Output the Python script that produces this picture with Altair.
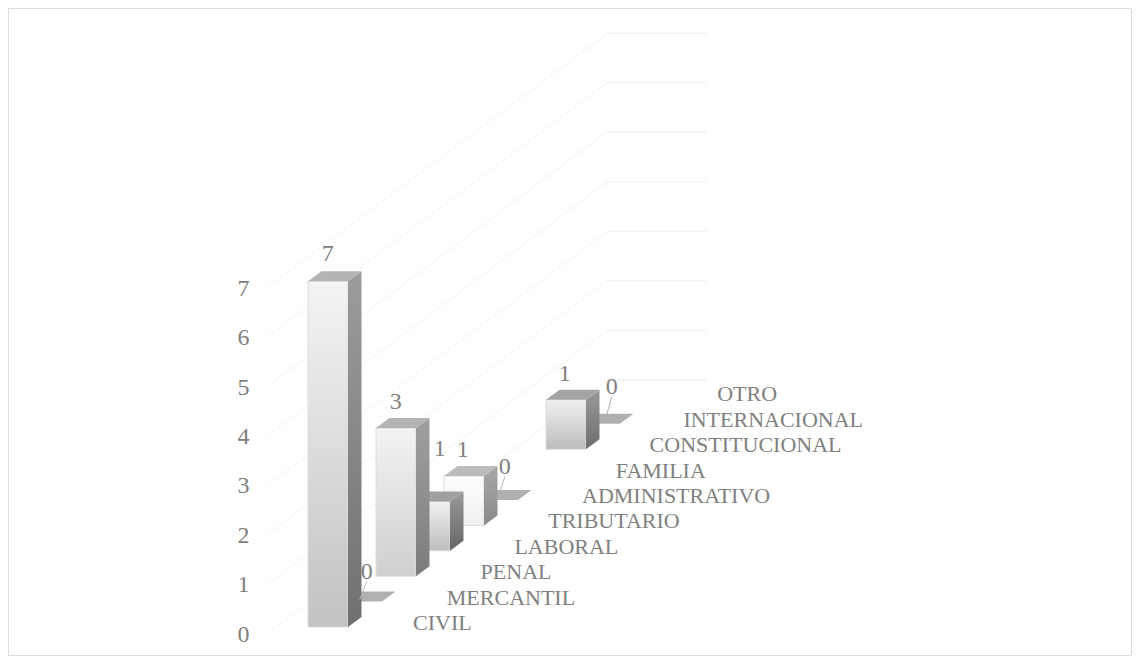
import altair as alt
import pandas as pd

categories = ["CIVIL", "MERCANTIL", "PENAL", "LABORAL", "TRIBUTARIO",
              "ADMINISTRATIVO", "FAMILIA", "CONSTITUCIONAL", "INTERNACIONAL", "OTRO"]
values = [7, 0, 3, 1, 1, 0, None, 1, 0, None]
ticks = [0, 1, 2, 3, 4, 5, 6, 7]
# manual label shifts (px) of the data labels, as moved in the original chart
label_dx = [-7, -2, -7, 3, -8, 0, 0, -8, 5, 0]
label_dy = [-17, -20, -16, -42, -16, -23, 0, -16, -27, 0]
# gradients per bar: front top, front bottom, side top, side bottom, top face
shades = {
    0: ("#f4f4f4", "#c2c2c2", "#9c9c9c", "#707070", "#b4b4b4"),
    1: ("#b0b0b0", "#b0b0b0", "#b0b0b0", "#b0b0b0", "#b0b0b0"),
    2: ("#f3f3f3", "#cfcfcf", "#a0a0a0", "#7c7c7c", "#b4b4b4"),
    3: ("#f2f2f2", "#bdbdbd", "#9a9a9a", "#666666", "#a0a0a0"),
    4: ("#fdfdfd", "#f0f0f0", "#a8a8a8", "#8a8a8a", "#bcbcbc"),
    5: ("#b0b0b0", "#b0b0b0", "#b0b0b0", "#b0b0b0", "#b0b0b0"),
    7: ("#f0f0f0", "#bcbcbc", "#9a9a9a", "#6e6e6e", "#a4a4a4"),
    8: ("#b0b0b0", "#b0b0b0", "#b0b0b0", "#b0b0b0", "#b0b0b0"),
}

W, H = 1123, 647
X0, Y0 = 308.0, 627.0      # page position of the first bar's front base
CAT, UNIT = 34.0, 49.4     # px per category, px per value unit
RISE = 25.4 / UNIT         # value-units the floor rises per category
BW = 40.0 / CAT            # bar width
DX, DZ = 13.5 / CAT, 10.0 / UNIT  # depth of a bar

xs = alt.Scale(domain=[(8 - X0) / CAT, (8 + W - X0) / CAT], nice=False, zero=False)
ys = alt.Scale(domain=[(Y0 - 8 - H) / UNIT, (Y0 - 8) / UNIT], nice=False, zero=False)
GREY = "#808080"
FONT = "Liberation Serif"
Y_AXIS = alt.Axis(values=ticks, domain=False, ticks=False, grid=False, title=None,
                  labelFont=FONT, labelFontSize=24, labelColor=GREY,
                  labelPadding=0, offset=-241, labelOffset=7, format="d")


def X(f="x", **k):
    return alt.X(f"{f}:Q", scale=xs, axis=None, **k)


def Y(f="y", **k):
    return alt.Y(f"{f}:Q", scale=ys, axis=Y_AXIS, **k)


def grad(a, b):
    return alt.Gradient(gradient="linear", x1=0, x2=0, y1=0, y2=1,
                        stops=[alt.GradientStop(color=a, offset=0),
                               alt.GradientStop(color=b, offset=1)])


# wall / floor gridlines
slant = []
flat = []
for k in ticks:
    slant += [{"k": k, "x": (268 - X0) / CAT, "y": k - 0.12},
              {"k": k, "x": (607 - X0) / CAT, "y": 5.0 + k * 1.003}]
    flat += [{"k": k, "x": (607 - X0) / CAT, "y": 5.0 + k * 1.003},
             {"k": k, "x": (706 - X0) / CAT, "y": 5.0 + k * 1.003}]

layers = [
    alt.Chart(pd.DataFrame(slant)).mark_line(color="#f3f3f3", strokeWidth=1).encode(
        x=X(), y=Y(), detail="k:N"),
    alt.Chart(pd.DataFrame(flat)).mark_line(color="#f2f2f2", strokeWidth=1.5).encode(
        x=X(), y=Y(), detail="k:N"),
]

# bars, back to front
labels = []
leaders = []
for i in range(len(categories) - 1, -1, -1):
    v = values[i]
    if v is None:
        continue
    x0, x1 = float(i), i + BW
    b = i * RISE
    t = b + v
    ft, fb, st, sb, tp = shades[i]
    if v > 0:
        layers.append(alt.Chart(pd.DataFrame([{"x": x0, "x2": x1, "y": t, "y2": b}]))
                      .mark_rect(color=grad(ft, fb), stroke="#dcdcdc", strokeWidth=1)
                      .encode(x=X(), x2="x2:Q", y=Y(), y2="y2:Q"))
        layers.append(alt.Chart(pd.DataFrame([
            {"x": x1, "y": t, "y2": b},
            {"x": x1 + DX, "y": t + DZ, "y2": b + DZ}]))
            .mark_area(color=grad(st, sb), orient="vertical")
            .encode(x=X(), y=Y(), y2="y2:Q"))
    layers.append(alt.Chart(pd.DataFrame([
        {"y": t, "x": x0, "x2": x1},
        {"y": t + DZ, "x": x0 + DX, "x2": x1 + DX}]))
        .mark_area(color=tp, orient="horizontal")
        .encode(y=Y(), x=X(), x2="x2:Q"))
    lx = (x0 + x1 + DX) / 2 + label_dx[i] / CAT
    ly = t + DZ - label_dy[i] / UNIT
    labels.append({"x": lx, "y": ly, "t": str(v)})
    if v == 0:
        leaders.append({"k": i, "x": lx, "y": ly - 10 / UNIT})
        leaders.append({"k": i, "x": lx - 7 / CAT, "y": t + 2 / UNIT})

layers.append(alt.Chart(pd.DataFrame(leaders)).mark_line(color="#b5b5b5", strokeWidth=1).encode(
    x=X(), y=Y(), detail="k:N"))
layers.append(alt.Chart(pd.DataFrame(labels)).mark_text(
    font=FONT, fontSize=24, color=GREY, align="center", baseline="middle").encode(
    x=X(), y=Y(), text="t:N"))

# category labels, stepped along the floor
cat_df = pd.DataFrame([{"x": i * 33.8 / CAT + 105 / CAT, "y": i * RISE + 4 / UNIT, "t": c}
                       for i, c in enumerate(categories)])
layers.append(alt.Chart(cat_df).mark_text(
    font=FONT, fontSize=22, color=GREY, align="left", baseline="middle").encode(
    x=X(), y=Y(), text="t:N"))

chart = alt.layer(*layers).properties(
    width=W, height=H,
    padding={"left": 0, "top": 0, "right": 1, "bottom": 1},
    autosize=alt.AutoSizeParams(type="none"),
).configure_view(stroke="#e2e2e2", strokeWidth=2).configure(background="#ffffff")

chart.save("out.html", embed_options={"renderer": "svg", "actions": False})
